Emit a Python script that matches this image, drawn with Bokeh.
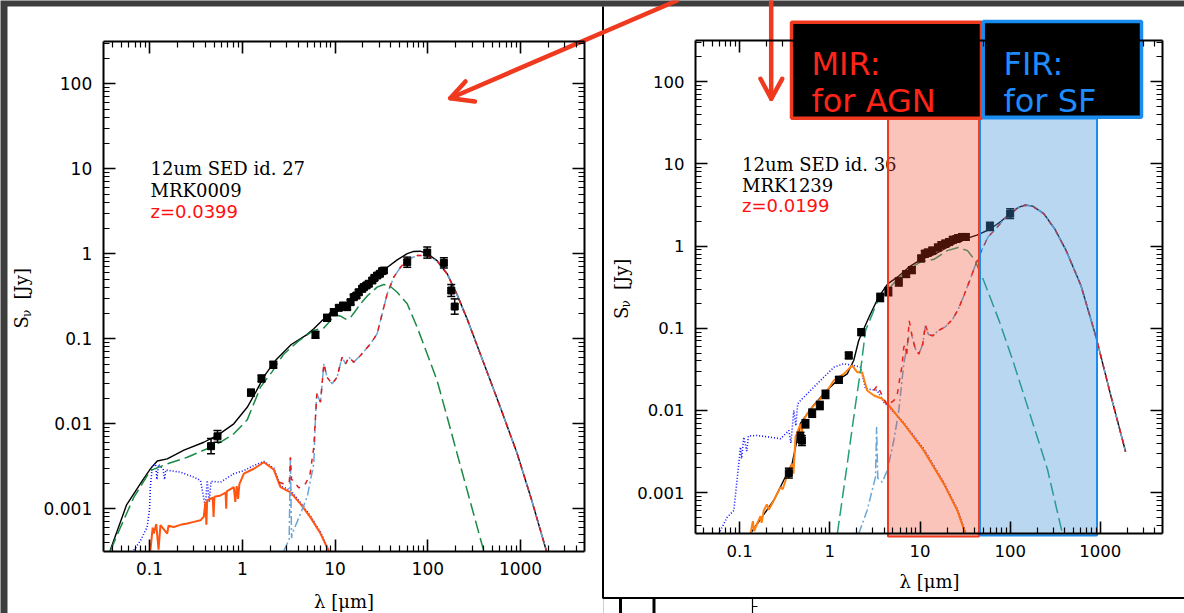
import math
from bokeh.plotting import figure
from bokeh.models import Range1d, LogScale, LogAxis, FixedTicker, CustomJSTickFormatter
from bokeh.core.properties import value
from bokeh.embed import file_html
from bokeh.resources import INLINE

W, H = 1184, 613

# ---------------- data : left panel (MRK0009) ----------------
L_info = ["12um SED id. 27", "MRK0009", "z=0.0399"]
L_obs_wl = [0.46, 0.54, 1.24, 1.61, 2.16, 6.15, 8.2, 9.7, 11.0, 12.2, 13.5, 14.7, 15.9, 17.0, 18.0,
            19.6, 20.4, 21.8, 23.1, 25.2, 26.6, 28.5, 30.4, 32.2, 33.6, 60, 98.6, 149, 179, 195]
L_obs_f = [0.00544, 0.0071, 0.0232, 0.034, 0.0493, 0.111, 0.176, 0.205, 0.231, 0.246, 0.235, 0.269,
           0.308, 0.322, 0.352, 0.386, 0.404, 0.423, 0.443, 0.484, 0.52, 0.554, 0.58, 0.623, 0.634,
           0.794, 1.03, 0.78, 0.369, 0.239]
L_obs_err = [0.09, 0.07, 0.04, 0.04, 0.04, 0.04, 0.04, 0.04, 0.03, 0.03, 0.03, 0.03, 0.03, 0.03, 0.03,
             0.03, 0.03, 0.03, 0.03, 0.03, 0.03, 0.03, 0.03, 0.03, 0.03, 0.06, 0.065, 0.06, 0.07, 0.09]

L_tot_wl = [0.0375, 0.0565, 0.0826, 0.102, 0.121, 0.155, 0.235, 0.385, 0.55, 0.809, 1.13, 1.41, 1.73,
            2.30, 3.37, 4.93, 5.9, 7.26, 8.2, 8.93, 9.87, 11.5, 13.5, 17.0, 21.6, 31.0, 36.7, 46.8, 60,
            69.5, 83, 98.6, 126, 162, 207, 266, 400, 600, 920, 1300, 1905]
L_tot_f = [3.2e-4, 1.11e-3, 2.10e-3, 2.94e-3, 3.64e-3, 3.86e-3, 4.90e-3, 6.05e-3, 7.4e-3, 9.97e-3,
           0.0156, 0.024, 0.0366, 0.056, 0.0855, 0.111, 0.131, 0.164, 0.179, 0.205, 0.225, 0.232,
           0.246, 0.322, 0.404, 0.58, 0.693, 0.847, 1.0, 1.06, 1.07, 1.0, 0.83, 0.58, 0.33, 0.17,
           0.052, 0.016, 4.45e-3, 1.33e-3, 3.16e-4]

L_agn_wl = [0.0379, 0.0486, 0.0676, 0.102, 0.155, 0.255, 0.418, 0.582, 0.809, 1.13, 1.57, 2.09, 2.79,
            4.08, 5.9, 7.57, 8.93, 9.87, 11.5, 13.0, 14.4, 16.2, 18.8, 22.5, 28.4, 33.6, 39.6, 46.8,
            60, 76.9, 98.6, 126, 162, 207, 402]
L_agn_f = [3.22e-4, 6.06e-4, 1.36e-3, 2.81e-3, 3.37e-3, 4.03e-3, 5.07e-3, 6.06e-3, 7.6e-3, 0.0111,
           0.0269, 0.0407, 0.0656, 0.095, 0.125, 0.134, 0.164, 0.193, 0.184, 0.170, 0.173, 0.205,
           0.258, 0.322, 0.404, 0.434, 0.411, 0.352, 0.258, 0.136, 0.066, 0.0322, 0.0119, 4.45e-3,
           3.16e-4]

L_host_wl = [2.48, 2.92, 3.22, 3.3, 3.39, 3.54, 4.06, 4.69, 5.35, 5.9, 6.15, 6.36, 6.97, 7.57, 8.2,
             9.31, 10.5, 11.9, 13.0, 14.1, 15.9, 18.8, 24.1, 28.4, 30.9, 36.5, 43, 50.8, 60, 76.9,
             98.6, 126, 162, 207, 266, 400, 600, 920, 1300, 1905]
L_host_f = [2.05e-3, 1.93e-3, 2.1e-3, 4.03e-3, 2.2e-3, 2.15e-3, 1.76e-3, 1.88e-3, 2.46e-3, 5.3e-3,
            0.0119, 0.0225, 0.0179, 0.0507, 0.0352, 0.0294, 0.0352, 0.0605, 0.0507, 0.0605, 0.053,
            0.0634, 0.0871, 0.114, 0.164, 0.337, 0.53, 0.693, 0.847, 0.953, 0.953, 0.82, 0.575,
            0.328, 0.169, 0.052, 0.016, 4.45e-3, 1.33e-3, 3.16e-4]

L_sb_wl = [2.8, 3.2, 3.3, 3.4, 3.45, 4.24, 5.0, 5.9, 6.15, 6.36, 6.97, 7.57, 8.2, 9.31, 10.5, 11.9,
           13.0, 14.1, 15.9, 18.8, 24.1, 28.4, 30.9, 36.5, 43, 50.8, 60, 76.9, 98.6, 126, 162, 207,
           266, 400, 600, 920, 1300, 1905]
L_sb_f = [3.2e-4, 4.3e-4, 4.0e-3, 4.5e-4, 5.1e-4, 8.7e-4, 1.37e-3, 3.37e-3, 0.0119, 0.0225, 0.0179,
          0.0507, 0.0352, 0.0294, 0.0352, 0.0605, 0.0507, 0.0605, 0.053, 0.0634, 0.0871, 0.114,
          0.164, 0.337, 0.53, 0.693, 0.847, 0.953, 0.953, 0.82, 0.575, 0.328, 0.169, 0.052, 0.016,
          4.45e-3, 1.33e-3, 3.16e-4]

L_star_wl = [0.102, 0.108, 0.111, 0.118, 0.125, 0.131, 0.155, 0.16, 0.182, 0.22, 0.255, 0.30, 0.354,
             0.37, 0.384, 0.40, 0.41, 0.418, 0.48, 0.49, 0.50, 0.582, 0.66, 0.67, 0.68, 0.809, 0.84,
             0.87, 0.9, 0.93, 1.04, 1.33, 1.71, 2.19, 2.58, 3.31, 4.24, 5.43, 6.97, 8.57]
L_star_f = [3.2e-4, 6.0e-4, 5.1e-4, 6.6e-4, 3.3e-4, 6.4e-4, 5.1e-4, 6.3e-4, 6.1e-4, 6.5e-4, 6.7e-4,
            7.0e-4, 7.3e-4, 7.7e-4, 8.0e-4, 1.2e-3, 6.5e-4, 1.25e-3, 1.35e-3, 8.0e-4, 1.38e-3,
            1.43e-3, 1.55e-3, 1.0e-3, 1.6e-3, 1.79e-3, 1.2e-3, 1.85e-3, 1.3e-3, 1.95e-3, 2.58e-3,
            2.95e-3, 3.52e-3, 2.87e-3, 1.79e-3, 1.56e-3, 1.14e-3, 7.9e-4, 5.1e-4, 3.16e-4]

L_unat_wl = [0.0676, 0.0797, 0.0942, 0.1, 0.102, 0.107, 0.116, 0.12, 0.125, 0.14, 0.145, 0.15, 0.215,
             0.30, 0.354, 0.40, 0.418, 0.44, 0.46, 0.582, 0.809, 1.04, 1.33, 1.71, 2.19, 2.58, 3.31,
             4.24, 5.43, 6.97, 8.57]
L_unat_f = [3.25e-4, 4.2e-4, 6.1e-4, 1.0e-3, 1.81e-3, 3.13e-3, 3.37e-3, 2.2e-3, 3.3e-3, 2.9e-3,
            2.2e-3, 2.85e-3, 2.69e-3, 2.35e-3, 2.15e-3, 1.05e-3, 2.15e-3, 1.2e-3, 2.1e-3, 2.05e-3,
            2.58e-3, 2.81e-3, 3.22e-3, 3.6e-3, 3.0e-3, 1.85e-3, 1.65e-3, 1.18e-3, 8.2e-4, 5.3e-4,
            3.2e-4]

# ---------------- data : right panel (MRK1239) ----------------
R_info = ["12um SED id. 36", "MRK1239", "z=0.0199"]
R_obs_wl = [0.351, 0.473, 0.49, 0.537, 0.637, 0.774, 0.895, 1.26, 1.62, 2.23, 3.62, 4.46, 5.82, 7.03,
            8.12, 10.3, 11.3, 12.2, 13.7, 15.8, 17.3, 19.1, 21.0, 23.1, 25.4, 26.6, 29.2, 32.2, 59.6,
            100]
R_obs_f = [1.73e-3, 4.73e-3, 4.3e-3, 6.89e-3, 9.27e-3, 0.0115, 0.0157, 0.0236, 0.0467, 0.0896,
           0.237, 0.279, 0.366, 0.456, 0.509, 0.707, 0.805, 0.832, 0.879, 0.96, 1.03, 1.07, 1.12,
           1.19, 1.22, 1.25, 1.29, 1.29, 1.73, 2.48]
R_obs_err = [0.06, 0.06, 0.06, 0.05, 0.05, 0.05, 0.05, 0.04, 0.04, 0.04, 0.05, 0.05, 0.05, 0.04,
             0.04, 0.04, 0.04, 0.04, 0.04, 0.04, 0.04, 0.04, 0.04, 0.04, 0.04, 0.04, 0.04, 0.04,
             0.05, 0.06]

R_tot_wl = [0.132, 0.239, 0.383, 0.473, 0.664, 0.935, 1.21, 1.56, 1.84, 2.09, 2.72, 3.45, 4.38, 5.82,
            7.74, 10.3, 14.3, 20, 29.2, 42.8, 59.6, 79.2, 100.4, 122, 147, 178, 236, 314, 418, 611,
            893, 1303, 1906]
R_tot_f = [3.2e-4, 8.1e-4, 2.3e-3, 7.0e-3, 0.0117, 0.0178, 0.0232, 0.0279, 0.0405, 0.071, 0.137,
           0.237, 0.347, 0.431, 0.567, 0.69, 0.788, 0.96, 1.19, 1.36, 1.60, 2.0, 2.48, 2.93, 3.16,
           3.06, 2.48, 1.60, 0.879, 0.329, 0.0792, 0.0154, 3.15e-3]

R_agn_wl = [1.21, 1.56, 1.93, 2.19, 2.49, 3.45, 5.82, 7.74, 10.3, 14.3, 20, 26.6, 33.7, 40.7, 51.6,
            75.5, 110, 161, 259, 379]
R_agn_f = [3.16e-4, 2.25e-3, 0.012, 0.0306, 0.094, 0.224, 0.408, 0.537, 0.647, 0.69, 0.879, 0.96,
           0.879, 0.668, 0.366, 0.123, 0.0369, 0.01, 1.93e-3, 3.2e-4]

R_host_wl = [3.08, 3.35, 3.81, 4.33, 5.12, 5.57, 6.08, 6.28, 6.61, 6.9, 7.1, 7.59, 8.19, 8.83, 9.72,
             10.7, 11.5, 12.4, 13.9, 15.8, 19.1, 23.1, 26.6, 30.7, 35.4, 40.7, 47, 56.8, 68.7, 83.2,
             100, 122, 147, 178, 236, 314, 418, 611, 893, 1303, 1906]
R_host_f = [0.0175, 0.0201, 0.0152, 0.0115, 0.0132, 0.0152, 0.0279, 0.0331, 0.0589, 0.0637, 0.045,
            0.123, 0.0792, 0.0571, 0.0485, 0.0637, 0.11, 0.0838, 0.081, 0.0934, 0.104, 0.13, 0.171,
            0.25, 0.375, 0.567, 0.832, 1.29, 1.6, 2.05, 2.45, 2.9, 3.13, 3.04, 2.46, 1.59, 0.875,
            0.328, 0.079, 0.0154, 3.15e-3]

R_sb_wl = [2.09, 2.59, 3.21, 3.3, 3.4, 3.81, 4.33, 5.12, 5.82, 6.61, 7.51, 8.19, 8.83, 9.72, 10.7,
           11.5, 12.4, 13.9, 15.8, 19.1, 23.1, 26.6, 30.7, 35.4, 40.7, 47, 56.8, 68.7, 83.2, 100,
           122, 147, 178, 236, 314, 418, 611, 893, 1303, 1906]
R_sb_f = [3.16e-4, 6.08e-4, 1.55e-3, 6.3e-3, 1.5e-3, 1.34e-3, 1.86e-3, 4.31e-3, 0.01, 0.037, 0.0778,
          0.0792, 0.0571, 0.0485, 0.0637, 0.11, 0.0838, 0.081, 0.0934, 0.104, 0.13, 0.171, 0.25,
          0.375, 0.567, 0.832, 1.29, 1.6, 2.05, 2.45, 2.9, 3.13, 3.04, 2.46, 1.59, 0.875, 0.328,
          0.079, 0.0154, 3.15e-3]

R_star_wl = [0.132, 0.14, 0.145, 0.156, 0.17, 0.175, 0.185, 0.2, 0.21, 0.239, 0.284, 0.30, 0.336,
             0.383, 0.395, 0.416, 0.473, 0.49, 0.5, 0.561, 0.664, 0.787, 0.935, 1.11, 1.43, 1.77,
             2.01, 2.28, 2.59, 3.08, 3.81, 4.51, 6.61, 11.0, 18.4, 25.9, 32]
R_star_f = [3.16e-4, 4.5e-4, 3.4e-4, 4.19e-4, 5.2e-4, 4.3e-4, 6.08e-4, 7.2e-4, 6.2e-4, 8.04e-4,
            1.17e-3, 1.1e-3, 1.62e-3, 2.25e-3, 1.7e-3, 4.73e-3, 6.89e-3, 5.0e-3, 7.3e-3, 9.12e-3,
            0.0115, 0.0139, 0.0175, 0.0232, 0.0279, 0.0352, 0.0292, 0.0292, 0.0175, 0.0152, 0.0139,
            0.0115, 6.89e-3, 3.26e-3, 1.28e-3, 6.08e-4, 3.16e-4]

R_unat_wl = [0.0586, 0.0727, 0.0861, 0.0977, 0.102, 0.105, 0.111, 0.12, 0.125, 0.156, 0.22, 0.284,
             0.351, 0.37, 0.398, 0.42, 0.44, 0.473, 0.61, 0.857, 1.11, 1.43, 1.84, 2.19, 2.49, 3.35,
             3.96, 4.71, 6.61, 11.0, 18.4, 25.9, 32]
R_unat_f = [3.16e-4, 5.03e-4, 6.08e-4, 2.25e-3, 3.58e-3, 2.6e-3, 4.73e-3, 3.2e-3, 4.9e-3, 4.96e-3,
            4.73e-3, 4.53e-3, 5.71e-3, 4.0e-3, 0.01, 6.5e-3, 0.012, 0.0132, 0.0175, 0.0254, 0.0336,
            0.037, 0.0352, 0.0336, 0.0184, 0.0175, 0.0126, 0.0105, 7.08e-3, 3.42e-3, 1.33e-3,
            6.37e-4, 3.28e-4]

X_TICKS = [0.1, 1, 10, 100, 1000]
Y_TICKS = [0.001, 0.01, 0.1, 1, 10, 100]
BAND_LABELS = [["MIR:", "for AGN"], ["FIR:", "for SF"]]

# ---------------- figure: one canvas, pixel coordinates for the page ----------------
p = figure(width=W, height=H, x_range=Range1d(0, W), y_range=Range1d(H, 0),
           x_axis_type=None, y_axis_type=None, output_backend="svg", toolbar_location=None,
           min_border=0, outline_line_color=None,
           background_fill_color="#3e3e3e", border_fill_color="#3e3e3e")

# white sheets
p.quad(left=[7], right=[603], top=[6], bottom=[H], fill_color="white", line_color=None)
p.quad(left=[603], right=[W], top=[6], bottom=[H], fill_color="white", line_color=None)
p.line([602.5, 602.5, W], [6, 597.5, 597.5], line_color="black", line_width=2)
p.segment(x0=[620, 653.5, 752], y0=[598, 598, 598], x1=[620, 653.5, 752], y1=[H, H, H],
          line_color="black", line_width=[3, 3, 1.2])
p.segment(x0=[752], y0=[606], x1=[757], y1=[606], line_color="black", line_width=1)


def xrange_for(px0, px1, l0, l1):
    d = (l1 - l0) / (px1 - px0)
    return Range1d(10 ** (l0 - px0 * d), 10 ** (l1 + (W - px1) * d))


def yrange_for(py_top, py_bot, l0, l1):
    d = (l1 - l0) / (py_bot - py_top)
    return Range1d(10 ** (l0 - (H - py_bot) * d), 10 ** (l1 + py_top * d))


PANELS = {
    "L": dict(px=(102.7, 584.3), py=(40.7, 550.7), lx=(-1.5, 3.693), ly=(-3.5, 2.5), fs="17px"),
    "R": dict(px=(695.0, 1161.6), py=(40.0, 533.3), lx=(-1.49, 3.685), ly=(-3.5, 2.5), fs="16.5px"),
}
p.extra_x_ranges = {k: xrange_for(*v["px"], *v["lx"]) for k, v in PANELS.items()}
p.extra_y_ranges = {k: yrange_for(*v["py"], *v["ly"]) for k, v in PANELS.items()}
p.extra_x_scales = {k: LogScale() for k in PANELS}
p.extra_y_scales = {k: LogScale() for k in PANELS}

all_minor = [k * 10 ** d for d in range(-4, 5) for k in range(2, 10)]
fmt_js = "return String(parseFloat(tick.toPrecision(3)));"

for k, v in PANELS.items():
    xb = (10 ** v["lx"][0], 10 ** v["lx"][1])
    yb = (10 ** v["ly"][0], 10 ** v["ly"][1])
    specs = [("below", xb, yb[0], X_TICKS, True), ("above", xb, yb[1], X_TICKS, False),
             ("left", yb, xb[0], Y_TICKS, True), ("right", yb, xb[1], Y_TICKS, False)]
    for side, bnd, loc, ticks, lab in specs:
        mins = [m for m in all_minor if bnd[0] <= m <= bnd[1]]
        majs = [t for t in ticks if bnd[0] <= t <= bnd[1]]
        ax = LogAxis(x_range_name=k, y_range_name=k, fixed_location=loc, bounds=bnd,
                     ticker=FixedTicker(ticks=majs, minor_ticks=mins),
                     formatter=CustomJSTickFormatter(code=fmt_js if lab else "return '';"),
                     axis_line_width=2, axis_line_color="black",
                     major_tick_in=12, major_tick_out=0, major_tick_line_width=1.6,
                     minor_tick_in=6, minor_tick_out=0, minor_tick_line_width=1.2,
                     major_label_standoff=11,
                     major_label_text_font="DejaVu Sans", major_label_text_font_size=v["fs"],
                     major_label_text_color="black")
        p.add_layout(ax, side)


def draw_panel(k, obs_wl, obs_f, obs_err, tot, agn, host, sb, star, unat, star_col, agn_col):
    kw = dict(x_range_name=k, y_range_name=k)
    p.line(tot[0], tot[1], line_color="black", line_width=1.4, **kw)
    p.line(unat[0], unat[1], line_color="#1010ff", line_width=1.6, line_dash="1 2", **kw)
    p.line(star[0], star[1], line_color=star_col, line_width=2, **kw)
    p.line(sb[0], sb[1], line_color="#6aa6d6", line_width=1.5, line_dash="9 3 2 3", **kw)
    p.line(host[0], host[1], line_color="#e41a1c", line_width=1.5, line_dash="5 6", **kw)
    p.line(agn[0], agn[1], line_color=agn_col, line_width=1.5, line_dash="13 5", **kw)
    lo = [f / 10 ** e for f, e in zip(obs_f, obs_err)]
    hi = [f * 10 ** e for f, e in zip(obs_f, obs_err)]
    p.segment(x0=obs_wl, y0=lo, x1=obs_wl, y1=hi, line_color="black", line_width=1.5, **kw)
    p.scatter(obs_wl + obs_wl, lo + hi, marker="dash", size=8, line_color="black",
              line_width=1.5, **kw)
    p.scatter(obs_wl, obs_f, marker="square", size=7, fill_color="black", line_color="black", **kw)


draw_panel("L", L_obs_wl, L_obs_f, L_obs_err, (L_tot_wl, L_tot_f), (L_agn_wl, L_agn_f),
           (L_host_wl, L_host_f), (L_sb_wl, L_sb_f), (L_star_wl, L_star_f),
           (L_unat_wl, L_unat_f), "#ff5511", "#1a8a45")
draw_panel("R", R_obs_wl, R_obs_f, R_obs_err, (R_tot_wl, R_tot_f), (R_agn_wl, R_agn_f),
           (R_host_wl, R_host_f), (R_sb_wl, R_sb_f), (R_star_wl, R_star_f),
           (R_unat_wl, R_unat_f), "#ff8010", "#22a070")

# ---------------- texts inside the panels ----------------
serif = value("DejaVu Serif")
sans = value("DejaVu Sans")
for info, x0, ys in ((L_info, 150, (168, 190, 211)), (R_info, 741.5, (164, 184.5, 205))):
    p.text(x=[x0, x0], y=list(ys[:2]), text=info[:2], text_font=serif, text_font_size="18px",
           text_color="black", text_baseline="alphabetic")
    p.text(x=[x0], y=[ys[2]], text=[info[2]], text_font=sans, text_font_size="18px",
           text_color="#ff1010", text_baseline="alphabetic")

for cx, ys in ((21, 328), (620.5, 318.6)):
    p.text(x=[cx], y=[ys], text=["S"], text_font=serif, text_font_size="18px", angle=math.pi / 2,
           text_align="left", text_baseline="middle", text_color="black")
    p.text(x=[cx + 5], y=[ys - 11.5], text=["ν"], text_font=serif, text_font_size="12px",
           angle=math.pi / 2, text_align="left", text_baseline="middle", text_color="black")
    p.text(x=[cx], y=[ys - 29], text=["[Jy]"], text_font=serif, text_font_size="18px",
           angle=math.pi / 2, text_align="left", text_baseline="middle", text_color="black")

p.text(x=[343.5, 929], y=[601, 581], text=["λ [μm]", "λ [μm]"], text_font=serif,
       text_font_size="18px", text_align="center", text_baseline="alphabetic", text_color="black")

# ---------------- MIR / FIR bands and labels ----------------
RED = "#f03a1f"
BLUE = "#1a8cf0"
p.quad(left=[887.5], right=[978.5], top=[118], bottom=[536], fill_color=RED, fill_alpha=0.3,
       line_color=RED, line_width=2)
p.quad(left=[979.5], right=[1096.5], top=[118], bottom=[535], fill_color="#3d8fd6",
       fill_alpha=0.36, line_color=BLUE, line_width=2)
p.quad(left=[791], right=[981], top=[21.7], bottom=[117.7], fill_color="black",
       line_color=RED, line_width=3.5)
p.quad(left=[982.7], right=[1141], top=[21], bottom=[116.7], fill_color="black",
       line_color=BLUE, line_width=3.5)
hand = value("DejaVu Sans")
p.text(x=[811, 811], y=[63, 100], text=BAND_LABELS[0], text_font=hand, text_font_size="32px",
       text_color="#ff2418", text_baseline="alphabetic")
p.text(x=[1003, 1003], y=[63, 100], text=BAND_LABELS[1], text_font=hand, text_font_size="32px",
       text_color="#1e8cff", text_baseline="alphabetic")

# ---------------- arrows ----------------
p.line([676.7, 449.7], [0, 97.7], line_color=RED, line_width=4.5, line_cap="round")
p.line([465, 449.7, 474.5], [80.9, 97.7, 100.9], line_color=RED, line_width=4.5,
       line_cap="round", line_join="round")
p.line([770.7, 770.7], [0, 98.3], line_color=RED, line_width=4.5, line_cap="round")
p.line([760, 770.7, 781.7], [78.3, 98.3, 78.3], line_color=RED, line_width=4.5,
       line_cap="round", line_join="round")

open("out.html", "w").write(file_html(p, INLINE))
